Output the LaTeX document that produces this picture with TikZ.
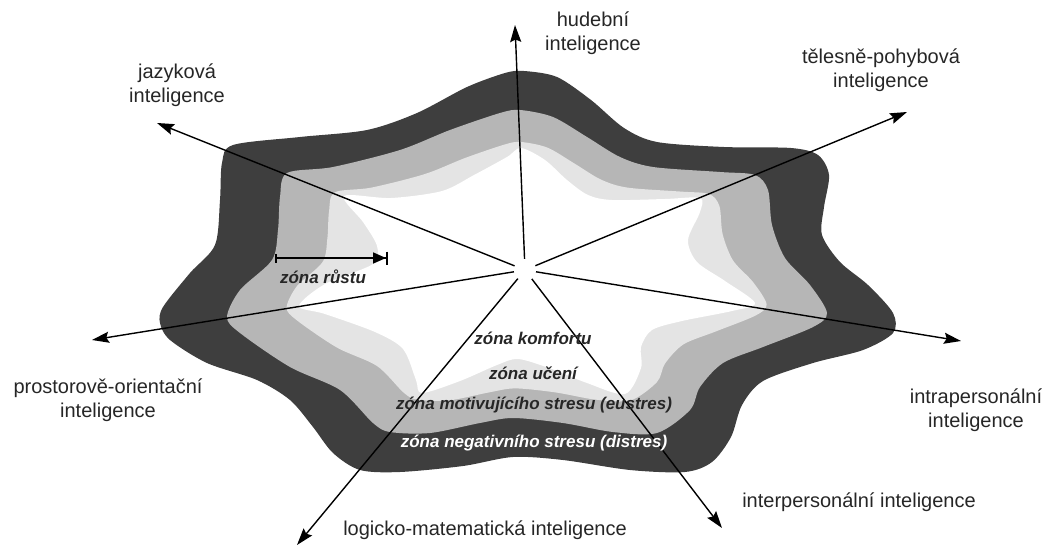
\documentclass[tikz,border=0pt]{standalone}
\usepackage{fontspec}
\setmainfont{Liberation Sans}
\usetikzlibrary{arrows.meta}

\definecolor{distres}{RGB}{62,62,62}
\definecolor{eustres}{RGB}{182,182,182}
\definecolor{uceni}{RGB}{228,228,228}

\begin{document}
\begin{tikzpicture}[x=1pt,y=-1pt,
  axis/.style={line width=1.4pt, -{Stealth[length=17pt,width=11pt,inset=2.5pt]}},
  intel/.style={font=\fontsize{20}{23.5}\selectfont, align=center, text=black!85},
  zone/.style={font=\fontsize{17}{20}\selectfont\bfseries\itshape},
  innerline/.style={insert path={plot[smooth cycle, tension=.5] coordinates {
    (520,110) (553,117) (587,137) (620,157) (653,167) (720,172) (755,175) (768,190)
    (772,225) (785,258) (810,285) (827,313) (813,327) (763,347) (723,363) (700,387)
    (690,410) (657,433) (613,432) (563,423) (513,418) (480,423) (430,433) (390,432)
    (373,423) (340,390) (290,367) (240,333) (227,317) (240,290) (272,260) (278,230)
    (280,197) (287,173) (333,167) (400,150) (450,130) (500,113)}}}]
  \useasboundingbox (0,0) rectangle (1048,546);

  % zones, from outside in
  \fill[distres] plot[smooth cycle, tension=.5] coordinates {
    (524,71) (557,77) (591,100) (624,128) (657,142) (724,147) (791,148) (818,155)
    (829,175) (824,207) (822,235) (840,262) (868,285) (893,313) (893,333) (863,350)
    (813,363) (763,381) (742,405) (731,437) (712,462) (685,472) (630,470) (563,460)
    (513,457) (463,466) (400,472) (360,470) (333,453) (313,427) (290,400) (257,380)
    (207,363) (170,340) (160,323) (163,307) (190,273) (215,245) (220,200) (222,163)
    (233,145) (300,137) (367,130) (417,113) (467,87) (505,73)};
  \fill[eustres, innerline];
  \fill[uceni, scale around={0.8:(525,270)}, innerline];
  \fill[white] plot[smooth cycle, tension=.5] coordinates {
    (521,148) (545,160) (567,180) (588,195) (612,200) (665,199) (700,198) (700,212)
    (688,240) (697,262) (725,281) (755,303) (732,311) (682,321) (652,330) (641,347)
    (641,368) (625,394) (587,383) (549,368) (518,359) (497,365) (460,381) (422,393)
    (416,380) (403,349) (375,332) (325,314) (299,306) (325,284) (373,264) (377,246)
    (363,222) (344,196) (391,198) (442,191) (474,175) (507,157)};

  \node[circle, fill=white, inner sep=0pt, minimum size=22pt] (hub) at (525,270) {};

  \coordinate (hudebni) at (515,25);
  \coordinate (telesna) at (907,112);
  \coordinate (intra) at (961,341);
  \coordinate (inter) at (722,528);
  \coordinate (logicka) at (297,545);
  \coordinate (prostor) at (92,340);
  \coordinate (jazyk) at (157,123);
  \foreach \t in {hudebni,telesna,intra,inter,logicka,prostor,jazyk}
    \draw[axis] (hub) -- (\t);

  \node[intel] (hudebniText) at (593,33) {hudební\\inteligence};
  \node[intel] (telesnaText) at (881,70) {tělesně-pohybová\\inteligence};
  \node[intel] (intraText) at (976,410) {intrapersonální\\inteligence};
  \node[intel] (interText) at (859,502) {interpersonální inteligence};
  \node[intel] (logickaText) at (485,530) {logicko-matematická inteligence};
  \node[intel] (prostorText) at (108,400) {prostorově-orientační\\inteligence};
  \node[intel] (jazykText) at (177,85) {jazyková\\inteligence};

  % zona rustu
  \coordinate (rustA) at (275,258);
  \coordinate (rustB) at (388,258);
  \draw[line width=1.6pt, {Bar[width=9pt]}-{Triangle[length=13pt,width=11pt]Bar[width=13pt,line width=2pt]}] (rustA) -- (rustB);
  \node[zone, text=black!85] (rust) at (323,277) {zóna růstu};

  \node[zone, text=black!85] (komfort) at (533,338) {zóna komfortu};
  \node[zone, text=black!85] (uceniText) at (533,373) {zóna učení};
  \node[zone, text=black!85] (eustresText) at (534,405) {zóna motivujícího stresu (eustres)};
  \node[zone, text=white] (distresText) at (534,443) {zóna negativního stresu (distres)};
\end{tikzpicture}
\end{document}
